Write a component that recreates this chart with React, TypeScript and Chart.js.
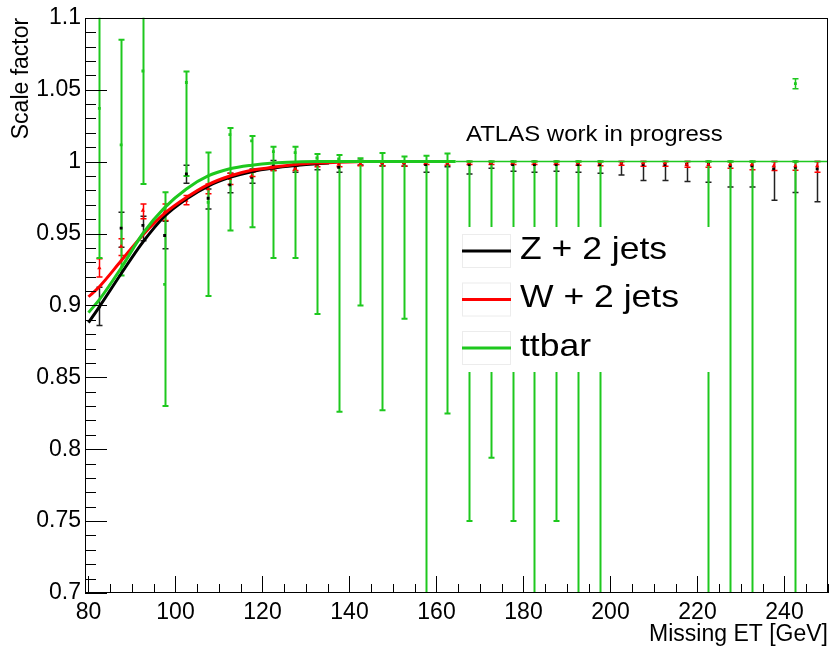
import React, { useEffect, useRef } from "react";
import { Chart, registerables } from "chart.js";
Chart.register(...registerables);

const FONT = "'Liberation Sans', Arial, Helvetica, sans-serif";

const binCenters = [82.5, 87.5, 92.5, 97.5, 102.5, 107.5, 112.5, 117.5, 122.5, 127.5, 132.5, 137.5, 142.5, 147.5, 152.5, 157.5, 162.5, 167.5, 172.5, 177.5, 182.5, 187.5, 192.5, 197.5, 202.5, 207.5, 212.5, 217.5, 222.5, 227.5, 232.5, 237.5, 242.5, 247.5];

// Z + 2 jets
const zValues = [0.899, 0.9537, 0.9556, 0.9486, 0.9914, 0.9745, 0.9838, 0.989, 0.997, 0.9955, 0.9985, 0.996, 1.0, 0.999, 0.999, 0.998, 0.999, 0.998, 0.999, 0.998, 0.998, 0.998, 0.998, 0.998, 0.999, 0.998, 0.998, 0.998, 0.998, 0.997, 0.997, 0.995, 0.996, 0.995];
const zUpper = [0.9127, 0.9648, 0.962, 0.9585, 0.9975, 0.981, 0.9919, 0.9949, 1.0007, 0.9985, 1.0, 0.9995, 1.001, 1.0, 1.0, 1.0, 1.0, 1.0, 1.0, 1.0, 1.0, 1.0, 1.0, 1.0, 1.0, 1.0, 1.0, 1.0, 1.0, 1.0, 1.0, 1.0, 1.0, 1.0];
const zLower = [0.886, 0.9405, 0.945, 0.9394, 0.985, 0.9671, 0.9783, 0.985, 0.9938, 0.9926, 0.9944, 0.9926, 0.9977, 0.997, 0.9968, 0.9926, 0.9965, 0.9914, 0.9954, 0.9933, 0.9926, 0.9933, 0.9926, 0.9919, 0.9907, 0.9868, 0.9868, 0.9861, 0.9856, 0.9824, 0.9824, 0.9731, 0.9785, 0.972];

// W + 2 jets
const wValues = [0.926, 0.941, 0.966, 0.965, 0.973, 0.981, 0.988, 0.99, 0.995, 0.995, 0.998, 0.998, 0.9985, 0.999, 0.999, 0.999, 0.999, 0.999, 0.999, 0.999, 0.999, 0.999, 0.999, 0.999, 0.999, 0.999, 0.999, 0.998, 0.998, 0.998, 0.998, 0.997, 0.997, 0.997];
const wUpper = [0.9324, 0.9463, 0.9706, 0.9706, 0.9764, 0.9845, 0.9919, 0.9926, 0.9968, 0.9968, 0.9995, 0.9995, 1.0, 1.0, 1.0, 1.0, 1.0, 1.0, 1.0, 1.0, 1.0, 1.0, 1.0, 1.0, 1.0, 1.0, 1.0, 1.0, 1.0, 1.0, 1.0, 1.0, 1.0, 1.0];
const wLower = [0.9197, 0.9347, 0.9602, 0.959, 0.97, 0.9776, 0.984, 0.9896, 0.9938, 0.9938, 0.9965, 0.9965, 0.9972, 0.9972, 0.997, 0.998, 0.9975, 0.998, 0.998, 0.998, 0.998, 0.998, 0.9975, 0.9972, 0.9975, 0.9968, 0.9968, 0.996, 0.996, 0.9954, 0.9944, 0.9938, 0.994, 0.9926];

// ttbar
const ttValues = [1.037, 1.0116, 1.063, 0.9146, 1.055, 0.9717, 1.0188, 1.0144, 1.0069, 1.0063, 1.0025, 1.0019, 1.0007, 1.0, 1.0, 1.0, 1.0, 1.0, 1.0, 1.0, 1.0, 1.0, 1.0, 1.0, null, null, null, null, 1.0, 1.0, 1.0, null, 1.0, null];
const ttUpper = [1.15, 1.0847, 1.15, 0.9787, 1.0627, 1.0063, 1.0234, 1.0178, 1.0104, 1.0104, 1.0053, 1.0046, 1.0023, 1.006, 1.0035, 1.004, 1.0056, 1.0, 1.0, 1.0, 1.0, 1.0, 1.0, 1.0, null, null, null, null, 1.0, 1.0, 1.0, null, 1.0, null];
const ttLower = [0.933, 0.9208, 0.9845, 0.83, 0.99, 0.9065, 0.952, 0.9544, 0.933, 0.933, 0.894, 0.826, 0.9, 0.827, 0.8908, 0.6, 0.8248, 0.75, 0.794, 0.75, 0.6, 0.75, 0.6, 0.6, null, null, null, null, 0.6, 0.6, 0.6, null, 0.6, null];
const ttExtraX = [242.5];
const ttExtraValues = [1.0542];
const ttExtraUpper = [1.0576];
const ttExtraLower = [1.0507];

// fitted curves
const zFitX = [80, 82.5, 87.5, 92.5, 97.5, 102.5, 107.5, 112.5, 117.5, 122.5, 127.5, 132.5, 135.3];
const zFitY = [0.888, 0.899, 0.922, 0.944, 0.962, 0.974, 0.983, 0.989, 0.993, 0.9955, 0.9972, 0.9985, 0.999];
const wFitX = [80, 82.5, 87.5, 92.5, 97.5, 102.5, 107.5, 112.5, 117.5, 122.5, 127.5, 132.5, 137.5, 143.8];
const wFitY = [0.906, 0.913, 0.931, 0.949, 0.964, 0.975, 0.984, 0.99, 0.994, 0.996, 0.998, 0.999, 0.9995, 1.0];
const ttFitX = [80, 82.5, 87.5, 92.5, 97.5, 102.5, 107.5, 112.5, 117.5, 122.5, 127.5, 132.5, 164.4];
const ttFitY = [0.895, 0.904, 0.926, 0.95, 0.968, 0.981, 0.99, 0.995, 0.9975, 0.999, 0.9997, 1.0, 1.0];
const unityX = [164.4, 250];
const unityY = [1.0, 1.0];

const xTickValues = [80, 100, 120, 140, 160, 180, 200, 220, 240];
const yTickValues = [0.7, 0.75, 0.8, 0.85, 0.9, 0.95, 1.0, 1.05, 1.1];

const legendLabels = ["Z + 2 jets", "W + 2 jets", "ttbar"];
const BLACK = "#000000";
const RED = "#ff0000";
const GREEN = "rgb(30,200,30)";

const pts = (xs: number[], ys: (number | null)[]) => xs.map((x, i) => ({ x, y: ys[i] }));

const errorBarPlugin = {
  id: "errorBars",
  beforeDatasetsDraw(chart: any) {
    const { ctx, chartArea: a, scales } = chart;
    const xs = scales.x, ys = scales.y;
    ctx.save();
    ctx.beginPath();
    ctx.rect(a.left, a.top, a.right - a.left, a.bottom - a.top);
    ctx.clip();
    const drawSet = (xv: number[], up: (number | null)[], lo: (number | null)[], color: string, w: number) => {
      ctx.strokeStyle = color;
      ctx.lineWidth = w;
      xv.forEach((x, i) => {
        if (up[i] == null || lo[i] == null) return;
        const px = Math.round(xs.getPixelForValue(x)) + 0.5;
        const pu = ys.getPixelForValue(up[i] as number);
        const pl = ys.getPixelForValue(lo[i] as number);
        ctx.beginPath();
        ctx.moveTo(px, pu);
        ctx.lineTo(px, pl);
        ctx.moveTo(px - 3, pu);
        ctx.lineTo(px + 3, pu);
        ctx.moveTo(px - 3, pl);
        ctx.lineTo(px + 3, pl);
        ctx.stroke();
      });
    };
    drawSet(binCenters, zUpper, zLower, "#222", 1.5);
    drawSet(binCenters, wUpper, wLower, RED, 1.5);
    drawSet(binCenters, ttUpper, ttLower, GREEN, 2);
    drawSet(ttExtraX, ttExtraUpper, ttExtraLower, GREEN, 1.5);
    ctx.restore();
  },
};

const stretchText = (ctx: any, text: string, x: number, y: number, size: number, sx: number) => {
  ctx.save();
  ctx.font = `${size}px ${FONT}`;
  ctx.fillStyle = "#000";
  ctx.textBaseline = "alphabetic";
  ctx.textAlign = "left";
  ctx.translate(x, y);
  ctx.scale(sx, 1);
  ctx.fillText(text, 0, 0);
  ctx.restore();
};

const legendPlugin = {
  id: "rootLegend",
  afterDatasetsDraw(chart: any) {
    const { ctx } = chart;
    ctx.save();
    // ATLAS label
    stretchText(ctx, "ATLAS work in progress", 466, 140.5, 22, 1.09);
    // legend box
    ctx.fillStyle = "#fff";
    ctx.fillRect(460, 227, 256, 145);
    const colors = [BLACK, RED, GREEN];
    const centers = [251, 299.5, 348];
    centers.forEach((cy, i) => {
      ctx.strokeStyle = "#ececec";
      ctx.lineWidth = 1;
      ctx.strokeRect(462.5, cy - 16.5, 48, 33);
      ctx.strokeStyle = colors[i];
      ctx.lineWidth = 3;
      ctx.beginPath();
      ctx.moveTo(462, cy);
      ctx.lineTo(511, cy);
      ctx.stroke();
      stretchText(ctx, legendLabels[i], 520, cy + 7.5, 32, 1.11);
    });
    ctx.restore();
  },
};

const framePlugin = {
  id: "rootFrame",
  afterDraw(chart: any) {
    const { ctx, chartArea: a, scales } = chart;
    ctx.save();
    ctx.strokeStyle = "#000";
    ctx.lineWidth = 1;
    ctx.strokeRect(Math.round(a.left) + 0.5, Math.round(a.top) + 0.5, Math.round(a.right - a.left) - 1, Math.round(a.bottom - a.top) - 1);
    ctx.beginPath();
    for (let i = 70; i <= 110; i++) {
      const py = Math.round(scales.y.getPixelForValue(i / 100)) + 0.5;
      const len = i % 5 === 0 ? 22 : 11;
      ctx.moveTo(a.left, py);
      ctx.lineTo(a.left + len, py);
    }
    for (let v = 80; v <= 250; v += 5) {
      const px = Math.round(scales.x.getPixelForValue(v)) + 0.5;
      const len = v % 20 === 0 ? 17 : 9;
      ctx.moveTo(px, a.bottom);
      ctx.lineTo(px, a.bottom - len);
    }
    ctx.stroke();
    ctx.restore();
  },
};

export default function App() {
  const ref = useRef<HTMLCanvasElement | null>(null);
  useEffect(() => {
    if (!ref.current) return;
    const pointSet = (label: string, ys: (number | null)[], color: string, style: string, r: number, order: number) => ({
      label,
      data: pts(binCenters, ys),
      showLine: false,
      pointStyle: style,
      pointRadius: r,
      pointBackgroundColor: color,
      pointBorderColor: color,
      pointBorderWidth: 0,
      order,
    });
    const lineSet = (label: string, xs: number[], ys: number[], color: string, w: number, order: number) => ({
      label,
      data: pts(xs, ys),
      showLine: true,
      borderColor: color,
      borderWidth: w,
      pointRadius: 0,
      cubicInterpolationMode: "monotone",
      fill: false,
      order,
    });
    const chart = new Chart(ref.current, {
      type: "scatter",
      data: {
        datasets: [
          lineSet("ttbar fit", ttFitX, ttFitY, GREEN, 3, 0),
          lineSet("W + 2 jets fit", wFitX, wFitY, RED, 3, 1),
          lineSet("Z + 2 jets fit", zFitX, zFitY, BLACK, 3, 2),
          lineSet("ttbar unity", unityX, unityY, GREEN, 1.5, 3),
          pointSet("ttbar", ttValues, GREEN, "rect", 2, 4),
          {
            label: "ttbar extra",
            data: pts(ttExtraX, ttExtraValues),
            showLine: false,
            pointStyle: "rect",
            pointRadius: 2,
            pointBackgroundColor: GREEN,
            pointBorderWidth: 0,
            order: 4,
          },
          pointSet("W + 2 jets", wValues, RED, "triangle", 2.5, 5),
          pointSet("Z + 2 jets", zValues, BLACK, "rect", 2, 6),
        ] as any,
      },
      options: {
        responsive: false,
        animation: false,
        devicePixelRatio: 1,
        layout: { padding: { top: 17, right: 6, left: 0, bottom: 0 } },
        plugins: { legend: { display: false }, tooltip: { enabled: false } },
        scales: {
          x: {
            type: "linear",
            min: 79.2,
            max: 250,
            grid: { display: false, drawTicks: false },
            border: { display: false },
            ticks: {
              color: "#000",
              font: { family: FONT, size: 23 },
              padding: 6,
              autoSkip: false,
              maxRotation: 0,
              minRotation: 0,
            },
            afterBuildTicks: (s: any) => {
              s.ticks = xTickValues.map((v) => ({ value: v }));
            },
            afterFit: (s: any) => {
              s.height = 59;
            },
            title: {
              display: true,
              text: "Missing ET [GeV]",
              align: "end",
              color: "#000",
              font: { family: FONT, size: 23 },
              padding: { top: 0, bottom: 4 },
            },
          },
          y: {
            type: "linear",
            min: 0.7,
            max: 1.1,
            grid: { display: false, drawTicks: false },
            border: { display: false },
            ticks: {
              color: "#000",
              font: { family: FONT, size: 23 },
              padding: 4,
              autoSkip: false,
              callback: (v: any) => String(parseFloat(Number(v).toFixed(2))),
            },
            afterBuildTicks: (s: any) => {
              s.ticks = yTickValues.map((v) => ({ value: v }));
            },
            afterFit: (s: any) => {
              s.width = 85;
            },
            title: {
              display: true,
              text: "Scale factor",
              align: "end",
              color: "#000",
              font: { family: FONT, size: 23 },
              padding: { top: 8, bottom: 0 },
            },
          },
        },
      } as any,
      plugins: [errorBarPlugin, legendPlugin, framePlugin],
    });
    return () => chart.destroy();
  }, []);
  return (
    <div style={{ position: "absolute", left: 0, top: 0, width: 834, height: 652, background: "#fff" }}>
      <canvas ref={ref} width={834} height={652} style={{ display: "block" }} />
    </div>
  );
}
